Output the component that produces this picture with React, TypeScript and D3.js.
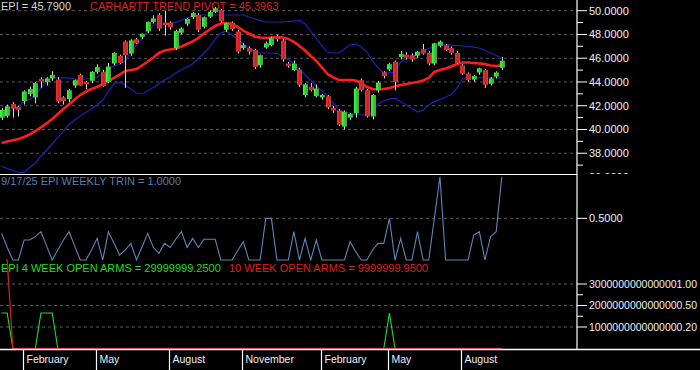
import React, { useEffect } from "react";
import * as d3 from "d3";

// ---- weekly candles (bar index 0 .. 89) ----
const opens = [41.0,41.15,42.15,41.9,42.4,43.0,42.7,44.25,44.0,44.3,44.2,42.7,42.55,43.7,44.6,44.0,44.1,44.85,44.85,44.0,45.55,46.2,47.4,46.4,47.6,47.8,48.25,49.05,49.65,49.0,49.0,46.85,48.15,48.9,49.45,49.65,48.65,49.5,49.9,50.05,48.4,49.0,48.25,46.85,46.85,46.7,45.4,46.9,47.1,47.85,47.5,45.55,45.0,45.05,42.9,43.6,42.8,42.7,42.8,41.8,41.6,40.25,41.0,41.35,44.15,43.3,41.1,43.3,44.8,45.05,45.7,46.1,46.3,46.25,46.2,46.75,46.45,45.55,47.05,47.1,46.85,46.45,45.4,44.7,44.2,44.8,45.0,43.85,44.45,45.2];
const highs = [41.8,42.1,42.3,42.0,43.3,43.6,44.0,44.4,44.4,44.9,44.4,42.8,43.4,44.2,44.7,44.1,44.9,45.5,45.0,45.6,46.5,46.3,47.5,47.6,47.7,48.1,49.1,49.6,49.8,50.0,49.1,48.4,48.6,49.4,49.9,49.8,49.5,50.0,50.3,50.15,49.0,49.1,48.4,47.3,47.0,46.8,46.3,47.4,47.8,48.0,47.6,45.7,45.8,45.2,43.9,43.9,43.8,43.0,42.9,42.0,41.7,41.6,41.4,43.6,44.3,43.4,43.0,44.1,44.9,45.6,45.8,46.6,46.5,46.4,46.6,47.2,46.6,47.3,47.5,47.2,47.0,46.6,45.5,44.8,44.6,45.2,45.1,44.4,44.9,46.1];
const lows = [40.8,41.0,41.0,41.1,42.1,42.8,42.2,43.5,43.7,44.1,42.2,42.1,42.3,43.5,43.7,43.4,43.9,44.7,43.6,43.9,45.4,45.5,43.5,46.2,47.2,47.6,48.1,48.9,48.3,47.9,48.4,46.7,48.0,48.7,49.3,48.2,48.5,49.4,49.8,49.0,48.2,48.3,46.4,46.7,46.3,45.1,45.2,46.8,47.0,47.4,45.7,45.2,44.9,43.6,42.7,43.2,42.7,42.5,41.7,41.4,40.3,40.0,40.8,41.0,43.2,41.0,40.85,43.1,44.3,44.9,43.3,45.9,45.9,45.7,46.0,46.3,45.4,45.4,46.9,46.6,46.3,45.5,44.6,44.0,44.0,44.6,43.5,43.7,44.3,45.0];
const closes = [41.65,41.95,41.75,41.65,43.2,43.4,43.9,44.05,44.3,44.6,42.35,42.4,43.3,44.15,43.7,43.8,44.85,45.25,43.65,45.3,46.45,45.6,46.25,47.5,47.25,48.05,49.05,49.35,48.5,48.8,48.6,48.3,48.5,49.3,49.8,48.4,49.45,49.9,50.2,49.1,48.95,48.45,46.55,47.1,46.55,45.25,46.25,47.25,47.7,47.6,45.9,45.35,45.55,43.75,43.8,43.3,43.45,42.9,41.85,41.6,40.4,41.5,41.3,43.45,43.3,41.1,42.9,43.95,44.5,45.5,44.0,46.35,46.05,45.9,46.55,46.4,45.55,47.25,47.4,46.7,46.45,45.6,44.7,44.15,44.5,45.15,43.75,44.3,44.8,45.79];

// ---- Carhartt trend pivot (red) and channel (blue) ----
const pivot = [38.86,38.99,39.09,39.2,39.37,39.58,39.87,40.17,40.51,40.88,41.3,41.73,42.1,42.53,42.9,43.2,43.41,43.58,43.83,44.08,44.34,44.63,44.92,45.01,45.09,45.39,45.72,46.06,46.44,46.65,46.73,46.82,46.99,47.2,47.41,47.7,48.08,48.42,48.71,48.92,48.96,48.88,48.63,48.33,48.08,47.83,47.74,47.7,47.74,47.79,47.74,47.62,47.37,47.03,46.65,46.19,45.77,45.22,44.67,44.38,44.17,44.17,44.17,44.12,43.91,43.58,43.41,43.37,43.41,43.49,43.62,43.75,43.83,43.91,44.0,44.12,44.34,44.84,45.01,45.13,45.3,45.51,45.64,45.64,45.6,45.56,45.51,45.39,45.35,45.4];
const upperBand = [41.14,41.39,41.73,41.98,42.32,42.57,42.9,43.49,44.0,44.34,44.34,44.34,44.34,44.25,44.17,44.25,44.29,44.38,44.67,45.09,45.35,45.51,45.77,46.52,47.11,47.7,48.21,48.8,48.84,48.88,48.92,49.01,49.22,49.39,49.55,49.64,49.64,49.64,49.64,49.64,49.64,49.64,49.64,49.64,49.47,49.3,49.18,49.05,49.05,49.05,49.05,49.09,49.13,49.18,48.88,48.29,47.62,47.03,46.52,46.44,46.44,46.78,47.11,47.2,46.94,46.52,45.77,45.18,44.76,44.76,44.84,45.68,45.93,46.14,46.36,46.61,46.82,46.99,47.2,47.16,47.11,47.07,47.03,46.99,46.94,46.86,46.65,46.44,46.23,46.02];
const lowerBand = [36.89,36.72,36.55,36.38,36.38,36.8,37.18,37.77,38.27,38.78,39.33,39.87,40.42,40.8,41.14,41.43,41.77,42.06,42.48,43.16,43.87,43.96,43.75,43.41,43.07,42.99,43.24,43.54,43.87,44.17,44.42,44.76,45.05,45.26,45.51,45.98,46.44,46.94,47.62,48.12,48.29,47.95,47.58,47.2,46.86,46.57,46.44,46.44,46.44,46.4,46.14,45.93,45.51,45.05,44.59,44.12,43.66,43.24,42.82,42.23,41.64,41.47,41.35,41.26,41.22,41.22,41.47,42.15,42.4,42.57,42.61,42.36,42.06,41.77,41.47,41.64,42.06,42.36,42.53,42.74,42.95,43.49,44.25,44.34,44.34,44.34,44.34,44.34,44.34,44.34];

// ---- weekly TRIN ----
const trin = [0.32,0.15,0,0,0.24,0.24,0.28,0.34,0.17,0,0.12,0.24,0.34,0.17,0,0,0.12,0.26,0,0.34,0.2,0.06,0.12,0.2,0,0.16,0.32,0.15,0.08,0.2,0.15,0.25,0.34,0.15,0.26,0.15,0.25,0.25,0.25,0,0,0,0.11,0.22,0,0,0,0.5,0.5,0,0,0,0.34,0,0.26,0,0.24,0,0,0,0,0,0.22,0.1,0,0,0.12,0.2,0.2,0.5,0,0.26,0,0,0.34,0,0,0.5,1.0,0,0,0,0,0,0.3,0.34,0,0.28,0.34,1.0];

// ---- open ARMS (in units of 1e15) ----
const arms4 = [1.65,1.65,0,0,0,0,0,1.65,1.65,1.65,0,0,0,0,0,0,0,0,0,0,0,0,0,0,0,0,0,0,0,0,0,0,0,0,0,0,0,0,0,0,0,0,0,0,0,0,0,0,0,0,0,0,0,0,0,0,0,0,0,0,0,0,0,0,0,0,0,0,0,1.65,0,0,0,0,0,0,0,0,0,0,0,0,0,0,0,0,0,0,0,0];
const arms10 = [4.5,4.1,0,0,0,0,0,0,0,0,0,0,0,0,0,0,0,0,0,0,0,0,0,0,0,0,0,0,0,0,0,0,0,0,0,0,0,0,0,0,0,0,0,0,0,0,0,0,0,0,0,0,0,0,0,0,0,0,0,0,0,0,0,0,0,0,0,0,0,0,0,0,0,0,0,0,0,0,0,0,0,0,0,0,0,0,0,0,0,0];

// ---- axes ----
const priceTicks = [50, 48, 46, 44, 42, 40, 38, 36];
const priceMinor = [49, 47, 45, 43, 41, 39, 37];
const trinTicks = [0.5];
const armsTicks = [3, 2, 1];
const armsTickLabels = ["3000000000000001.00", "2000000000000000.50", "1000000000000000.20"];
const armsMinor = [2.5, 1.5];
const monthLabels = ["February", "May", "August", "November", "February", "May", "August"];
const monthBars = [4, 17, 30, 43, 57, 69, 82];

const FONT = "'Liberation Sans', Arial, sans-serif";
const AXIS_X = 577;

export default function App() {
  useEffect(() => {
    document.body.style.margin = "0";
    document.body.style.background = "#000";
  }, []);

  const x = d3.scaleLinear().domain([0, 89]).range([1.6, 501.8]);
  const yP = d3.scaleLinear().domain([36, 50]).range([177.0, 10.7]);
  const yT = d3.scaleLinear().domain([0, 1]).range([260, 176.7]);
  const yA = d3.scaleLinear().domain([0, 3]).range([348.5, 284]);

  const priceLine = d3.line<number>().x((_, i) => x(i)).y((d) => yP(d));
  const trinLine = d3.line<number>().x((_, i) => x(i)).y((d) => yT(d));
  const armsLine = d3.line<number>().x((_, i) => x(i)).y((d) => yA(d));

  const grid = "#5a5a5a";

  return (
    <svg width={700} height={370} style={{ display: "block", background: "#000" }} fontFamily={FONT}>
      <defs>
        <clipPath id="cTop"><rect x={0} y={0} width={AXIS_X} height={174} /></clipPath>
        <clipPath id="cTopAxis"><rect x={AXIS_X} y={0} width={123} height={174} /></clipPath>
        <clipPath id="cMid"><rect x={0} y={174.5} width={AXIS_X} height={86.5} /></clipPath>
        <clipPath id="cBot"><rect x={0} y={259} width={AXIS_X} height={90} /></clipPath>
        <linearGradient id="gUp" x1="0" x2="1" y1="0" y2="0">
          <stop offset="0" stopColor="#44ff44" />
          <stop offset="0.6" stopColor="#22cc22" />
          <stop offset="1" stopColor="#6f8a6f" />
        </linearGradient>
        <linearGradient id="gDn" x1="0" x2="1" y1="0" y2="0">
          <stop offset="0" stopColor="#ff2a2a" />
          <stop offset="0.6" stopColor="#d01c1c" />
          <stop offset="1" stopColor="#8a6a6a" />
        </linearGradient>
      </defs>
      <rect x={0} y={0} width={700} height={370} fill="#000" />

      {/* grids */}
      {priceTicks.map((t) => (
        <line key={"pg" + t} x1={0} x2={AXIS_X} y1={yP(t)} y2={yP(t)} stroke={grid} strokeDasharray="3,3" clipPath="url(#cTop)" />
      ))}
      {trinTicks.map((t) => (
        <line key={"tg" + t} x1={0} x2={AXIS_X} y1={yT(t)} y2={yT(t)} stroke={grid} strokeDasharray="3,3" />
      ))}
      {armsTicks.map((t) => (
        <line key={"ag" + t} x1={0} x2={AXIS_X} y1={yA(t)} y2={yA(t)} stroke={grid} strokeDasharray="3,3" />
      ))}

      {/* titles */}
      <text x={1} y={10} fontSize={11} fill="#d8d8d8">EPI = 45.7900</text>
      <text x={90} y={10} fontSize={11} fill="#e01e1e">CARHARTT TREND PIVOT = 45.3963</text>
      <text x={1} y={185} fontSize={11} fill="#5a7fae">9/17/25  EPI WEEKLY TRIN = 1.0000</text>
      <text x={1} y={272} fontSize={11} fill="#22dd22">EPI 4 WEEK OPEN ARMS = 29999999.2500</text>
      <text x={229} y={272} fontSize={11} fill="#e01e1e">10 WEEK OPEN ARMS = 9999999.9500</text>

      {/* price panel */}
      <g clipPath="url(#cTop)">
        <path d={priceLine(upperBand) || ""} fill="none" stroke="#2020bc" strokeWidth={1.2} />
        <path d={priceLine(lowerBand) || ""} fill="none" stroke="#2020bc" strokeWidth={1.2} />
        <path d={priceLine(pivot) || ""} fill="none" stroke="#ff1c1c" strokeWidth={2.6} />
        {closes.map((c, i) => {
          const o = opens[i];
          const cx = Math.round(x(i));
          const top = yP(Math.max(o, c));
          const bot = yP(Math.min(o, c));
          return (
            <g key={"c" + i}>
              <line x1={cx + 0.5} x2={cx + 0.5} y1={yP(highs[i])} y2={yP(lows[i])} stroke="#d8d8d8" strokeWidth={1} />
              <rect x={cx - 2} y={top} width={5} height={Math.max(1.5, bot - top)} fill={c >= o ? "url(#gUp)" : "url(#gDn)"} />
            </g>
          );
        })}
      </g>

      {/* TRIN panel */}
      <g clipPath="url(#cMid)">
        <path d={trinLine(trin) || ""} fill="none" stroke="#5d86b8" strokeWidth={1.1} />
      </g>

      {/* ARMS panel */}
      <g clipPath="url(#cBot)">
        <path d={armsLine(arms4) || ""} fill="none" stroke="#22dd22" strokeWidth={1.1} />
        <path d={armsLine(arms10) || ""} fill="none" stroke="#cc2020" strokeWidth={1.3} />
      </g>

      {/* frame lines */}
      <line x1={0} x2={AXIS_X} y1={174.5} y2={174.5} stroke="#fff" strokeWidth={1.2} />
      <line x1={AXIS_X} x2={AXIS_X} y1={0} y2={349} stroke="#fff" strokeWidth={1.2} />
      <line x1={0} x2={700} y1={349.5} y2={349.5} stroke="#fff" strokeWidth={1.4} />

      {/* right axis: price */}
      <g clipPath="url(#cTopAxis)">
        {priceTicks.map((t) => (
          <g key={"pt" + t}>
            <line x1={AXIS_X} x2={AXIS_X + 10} y1={yP(t)} y2={yP(t)} stroke="#fff" />
            <text x={589} y={yP(t)} dy="0.36em" fontSize={11} fill="#f0f0f0">{t.toFixed(4)}</text>
          </g>
        ))}
        {priceMinor.map((t) => (
          <line key={"pm" + t} x1={AXIS_X} x2={AXIS_X + 6} y1={yP(t)} y2={yP(t)} stroke="#fff" />
        ))}
      </g>
      {trinTicks.map((t) => (
        <g key={"tt" + t}>
          <line x1={AXIS_X} x2={AXIS_X + 10} y1={yT(t)} y2={yT(t)} stroke="#fff" />
          <text x={589} y={yT(t)} dy="0.36em" fontSize={11} fill="#f0f0f0">{t.toFixed(4)}</text>
        </g>
      ))}
      {armsTicks.map((t, i) => (
        <g key={"at" + t}>
          <line x1={AXIS_X} x2={AXIS_X + 10} y1={yA(t)} y2={yA(t)} stroke="#fff" />
          <text x={589} y={yA(t)} dy="0.36em" fontSize={10.5} fill="#f0f0f0">{armsTickLabels[i]}</text>
        </g>
      ))}
      {armsMinor.map((t) => (
        <line key={"am" + t} x1={AXIS_X} x2={AXIS_X + 6} y1={yA(t)} y2={yA(t)} stroke="#fff" />
      ))}

      {/* date axis */}
      {monthBars.map((b, i) => {
        const sx = Math.round(x(b) - 1.4) + 0.5;
        return (
          <g key={"m" + i}>
            <line x1={sx} x2={sx} y1={349} y2={370} stroke="#fff" strokeWidth={1.2} />
            <text x={sx + 3} y={363} fontSize={10.5} fill="#f0f0f0">{monthLabels[i]}</text>
          </g>
        );
      })}
    </svg>
  );
}
